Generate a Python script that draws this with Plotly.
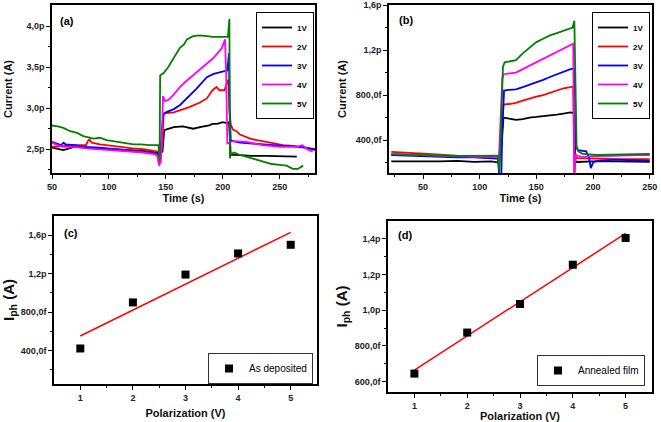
import plotly.graph_objects as go

# ---------------- DATA ----------------
# Panel (a): as-deposited film, current (pA) vs time (s)
t_a_1V = [50, 54, 60, 63, 69, 80, 92, 107, 121, 130, 142, 144.5, 147, 148.5, 150, 157, 165, 170, 174, 180, 183, 188, 191, 195, 200, 203.5, 205.5, 207, 212, 225, 238, 253, 265]
i_a_1V = [2.52, 2.51, 2.49, 2.50, 2.53, 2.52, 2.51, 2.50, 2.49, 2.48, 2.46, 2.45, 2.47, 2.73, 2.74, 2.77, 2.78, 2.76, 2.75, 2.77, 2.78, 2.79, 2.81, 2.81, 2.83, 2.82, 2.83, 2.43, 2.43, 2.42, 2.42, 2.41, 2.41]

t_a_2V = [50, 60, 70, 80, 81.5, 83, 85, 92, 107, 121, 130, 142, 144, 145, 147, 148, 150, 157, 165, 170, 180, 186, 191, 194.5, 197, 201.5, 203.5, 205, 206, 207, 209, 212, 215, 218, 224, 230, 238, 253, 262, 268, 275, 281]
i_a_2V = [2.53, 2.54, 2.55, 2.55, 2.60, 2.62, 2.58, 2.56, 2.53, 2.51, 2.50, 2.48, 2.47, 2.33, 2.60, 2.93, 2.94, 2.95, 2.99, 3.01, 3.07, 3.12, 3.22, 3.26, 3.22, 3.22, 3.30, 3.35, 2.95, 2.80, 2.74, 2.72, 2.68, 2.66, 2.63, 2.61, 2.59, 2.55, 2.54, 2.53, 2.51, 2.49]

t_a_3V = [50, 54, 58, 60, 62, 70, 78, 92, 107, 121, 130, 142, 144, 145, 146.5, 148, 150, 157, 162.5, 170, 177, 186, 192, 200.5, 204, 205.5, 206, 207, 209, 215, 224, 238, 253, 268, 281]
i_a_3V = [2.59, 2.57, 2.55, 2.58, 2.56, 2.55, 2.53, 2.52, 2.50, 2.48, 2.47, 2.45, 2.43, 2.37, 2.75, 2.93, 2.95, 2.99, 3.04, 3.14, 3.24, 3.38, 3.42, 3.45, 3.46, 3.67, 3.00, 2.61, 2.60, 2.58, 2.57, 2.55, 2.54, 2.53, 2.50]

t_a_4V = [50, 55, 60, 70, 80, 92, 107, 121, 130, 140, 142.5, 144, 145.5, 146.5, 147.5, 149, 152, 156.5, 162.5, 167, 177, 185, 191.5, 199, 202, 203, 204, 209, 221, 235, 250, 265, 270, 275, 279]
i_a_4V = [2.58, 2.55, 2.53, 2.53, 2.51, 2.50, 2.48, 2.47, 2.46, 2.44, 2.42, 2.30, 2.35, 2.60, 3.15, 3.09, 3.10, 3.16, 3.26, 3.32, 3.44, 3.53, 3.61, 3.73, 3.84, 3.40, 2.57, 2.60, 2.59, 2.55, 2.53, 2.53, 2.55, 2.49, 2.47]

t_a_5V = [50, 55, 60, 66, 72, 77.5, 86.5, 92, 98, 107, 114, 121.5, 128, 136, 143.5, 144.5, 145, 146.5, 148, 152, 156.5, 162.5, 166, 168.5, 174, 180, 186, 191.5, 198, 204.5, 205.8, 206.3, 207, 210, 215, 221, 228, 235.5, 243, 250, 256, 261.5, 266, 270.5]
i_a_5V = [2.79, 2.78, 2.76, 2.72, 2.70, 2.66, 2.63, 2.64, 2.61, 2.59, 2.58, 2.56, 2.56, 2.55, 2.55, 2.37, 3.40, 3.42, 3.43, 3.50, 3.60, 3.74, 3.78, 3.84, 3.88, 3.89, 3.88, 3.87, 3.87, 3.87, 4.09, 2.39, 2.44, 2.46, 2.43, 2.41, 2.38, 2.35, 2.32, 2.31, 2.30, 2.26, 2.26, 2.30]

# Panel (b): annealed film, current (pA) vs time (s)
t_b_1V = [22, 35, 50, 65, 80, 95, 110, 117, 119.5, 121, 126, 132, 138, 144, 150, 156, 162, 168, 174, 180, 183, 184.5, 186, 200, 220, 240, 250]
i_b_1V = [0.21, 0.21, 0.205, 0.21, 0.215, 0.205, 0.21, 0.20, 0.40, 0.60, 0.59, 0.58, 0.585, 0.60, 0.605, 0.61, 0.615, 0.625, 0.635, 0.645, 0.64, 0.21, 0.205, 0.21, 0.21, 0.21, 0.205]

t_b_2V = [22, 35, 50, 65, 80, 95, 110, 117, 119.5, 121, 126, 132, 138, 144, 150, 156, 162, 168, 174, 180, 182.5, 183.5, 184.5, 186, 200, 220, 240, 250]
i_b_2V = [0.295, 0.29, 0.28, 0.27, 0.26, 0.25, 0.24, 0.235, 0.50, 0.715, 0.72, 0.73, 0.75, 0.77, 0.785, 0.80, 0.82, 0.84, 0.86, 0.87, 0.875, 0.08, 0.25, 0.24, 0.235, 0.23, 0.23, 0.23]

t_b_3V = [22, 35, 50, 65, 80, 95, 110, 116, 117.5, 119, 120, 121.5, 126, 132, 138, 144, 150, 156, 162, 168, 174, 180, 183.5, 185, 186.5, 190, 194, 196.5, 198, 200, 203, 210, 220, 235, 250]
i_b_3V = [0.265, 0.26, 0.255, 0.25, 0.245, 0.245, 0.24, 0.235, 0.05, 0.05, 0.50, 0.84, 0.845, 0.85, 0.87, 0.89, 0.91, 0.935, 0.96, 0.985, 1.01, 1.03, 1.035, 0.35, 0.31, 0.305, 0.30, 0.24, 0.15, 0.20, 0.215, 0.22, 0.225, 0.22, 0.215]

t_b_4V = [22, 35, 50, 65, 80, 95, 110, 117, 118.5, 120, 121.5, 126, 132, 138, 144, 150, 156, 162, 168, 174, 180, 182.5, 183.5, 184.5, 186, 190, 200, 215, 230, 240, 250]
i_b_4V = [0.275, 0.27, 0.265, 0.26, 0.255, 0.25, 0.25, 0.245, 0.60, 0.95, 0.985, 0.99, 1.00, 1.03, 1.06, 1.09, 1.12, 1.15, 1.18, 1.21, 1.24, 1.255, 0.10, 0.27, 0.26, 0.25, 0.255, 0.26, 0.26, 0.265, 0.265]

t_b_5V = [22, 35, 50, 65, 80, 95, 110, 116, 117.5, 119, 120.5, 122, 126.5, 132, 138, 144, 150, 156, 162, 168, 174, 179, 182, 183.5, 184.5, 185.5, 187, 191, 203, 220, 235, 250]
i_b_5V = [0.275, 0.27, 0.265, 0.26, 0.258, 0.26, 0.262, 0.262, 0.12, 0.60, 1.05, 1.09, 1.10, 1.11, 1.17, 1.22, 1.27, 1.30, 1.33, 1.35, 1.37, 1.39, 1.40, 1.46, 0.80, 0.34, 0.30, 0.276, 0.267, 0.27, 0.276, 0.276]

# Panels (c) and (d): photocurrent (pA) vs polarization (V)
polarization = [1, 2, 3, 4, 5]
iph_deposited = [0.42, 0.90, 1.19, 1.41, 1.50]
iph_annealed = [0.645, 0.875, 1.035, 1.255, 1.405]
fit_x = [1, 5]
fit_deposited = [0.55, 1.63]
fit_annealed = [0.665, 1.43]

series_names = ["1V", "2V", "3V", "4V", "5V"]
series_colors = ["#000000", "#ff0000", "#0000ff", "#ff00ff", "#008000"]

# tick labels
a_yticks = [2.5, 3.0, 3.5, 4.0]
a_yticktext = ["2,5p", "3,0p", "3,5p", "4,0p"]
a_yminor = [2.25, 2.75, 3.25, 3.75]
b_yticks = [0.4, 0.8, 1.2, 1.6]
b_yticktext = ["400,0f", "800,0f", "1,2p", "1,6p"]
b_yminor = [0.2, 0.6, 1.0, 1.4]
c_yticks = [0.4, 0.8, 1.2, 1.6]
c_yticktext = ["400,0f", "800,0f", "1,2p", "1,6p"]
c_yminor = [0.2, 0.6, 1.0, 1.4]
d_yticks = [0.6, 0.8, 1.0, 1.2, 1.4]
d_yticktext = ["600,0f", "800,0f", "1,0p", "1,2p", "1,4p"]
d_yminor = [0.7, 0.9, 1.1, 1.3]
time_ticks = [50, 100, 150, 200, 250]
a_xminor = [75, 125, 175, 225, 275]
b_xminor = [25, 75, 125, 175, 225]
pol_ticks = [1, 2, 3, 4, 5]
pol_minor = [1.5, 2.5, 3.5, 4.5]

# ---------------- FIGURE ----------------
W, H = 661, 422
FONT = "Liberation Sans"
fig = go.Figure()

a_data = [(t_a_1V, i_a_1V), (t_a_2V, i_a_2V), (t_a_3V, i_a_3V), (t_a_4V, i_a_4V), (t_a_5V, i_a_5V)]
b_data = [(t_b_1V, i_b_1V), (t_b_2V, i_b_2V), (t_b_3V, i_b_3V), (t_b_4V, i_b_4V), (t_b_5V, i_b_5V)]

for (t, i), name, col in zip(a_data, series_names, series_colors):
    fig.add_trace(go.Scatter(x=t, y=i, mode="lines", name=name, line=dict(color=col, width=1.8),
                             xaxis="x", yaxis="y", legend="legend"))
for (t, i), name, col in zip(b_data, series_names, series_colors):
    fig.add_trace(go.Scatter(x=t, y=i, mode="lines", name=name, line=dict(color=col, width=1.8),
                             xaxis="x2", yaxis="y2", legend="legend2"))

fig.add_trace(go.Scatter(x=fit_x, y=fit_deposited, mode="lines", line=dict(color="#ff0000", width=1.5),
                         showlegend=False, xaxis="x3", yaxis="y3"))
fig.add_trace(go.Scatter(x=polarization, y=iph_deposited, mode="markers", name="As deposited",
                         marker=dict(symbol="square", size=8, color="black"),
                         xaxis="x3", yaxis="y3", legend="legend3"))
fig.add_trace(go.Scatter(x=fit_x, y=fit_annealed, mode="lines", line=dict(color="#ff0000", width=1.5),
                         showlegend=False, xaxis="x4", yaxis="y4"))
fig.add_trace(go.Scatter(x=polarization, y=iph_annealed, mode="markers", name="Annealed film",
                         marker=dict(symbol="square", size=8, color="black"),
                         xaxis="x4", yaxis="y4", legend="legend4"))

def px(x):
    return x / W

def py(y):
    return 1 - y / H

tickfont = dict(family=FONT, size=9, color="#222222", weight="bold")
titlefont = dict(family=FONT, size=11, color="#111111", weight="bold")

def axis(domain, rng, tickvals, ticktext=None, minor=None, anchor=None, title=None, standoff=None, tfont=None):
    d = dict(domain=domain, range=rng, anchor=anchor, showgrid=False, zeroline=False,
             showline=True, linecolor="black", linewidth=1.6, mirror=True, automargin=False,
             ticks="outside", ticklen=4, tickwidth=1.2, tickcolor="black",
             tickmode="array", tickvals=tickvals, tickfont=tickfont)
    if ticktext is not None:
        d["ticktext"] = ticktext
    if minor is not None:
        d["minor"] = dict(tickmode="array", tickvals=minor, ticks="outside", ticklen=2.5,
                          tickwidth=1, tickcolor="black")
    if title is not None:
        d["title"] = dict(text=title, font=tfont or titlefont, standoff=standoff)
    return d

layout = dict(width=W, height=H, margin=dict(l=0, r=0, t=0, b=0, pad=0, autoexpand=False),
              paper_bgcolor="white", plot_bgcolor="white", showlegend=True)

layout["xaxis"] = axis([px(52), px(315)], [50, 281], time_ticks, [str(v) for v in time_ticks],
                       a_xminor, "y", "Time (s)", 1)
layout["yaxis"] = axis([py(173), py(5)], [2.21, 4.26], a_yticks, a_yticktext,
                       a_yminor, "x", "Current (A)", 12)
layout["xaxis2"] = axis([px(389), px(652)], [20, 252], time_ticks, [str(v) for v in time_ticks],
                        b_xminor, "y2", "Time (s)", 1)
layout["yaxis2"] = axis([py(173), py(5)], [0.107, 1.6], b_yticks, b_yticktext,
                        b_yminor, "x2", "Current (A)", 7)
layout["xaxis3"] = axis([px(54), px(317)], [0.5, 5.5], pol_ticks, [str(v) for v in pol_ticks],
                        pol_minor, "y3", "Polarization (V)", 8)
layout["yaxis3"] = axis([py(384), py(216)], [0.05, 1.8], c_yticks, c_yticktext,
                        c_yminor, "x3", "I<sub>ph</sub> (A)", 4,
                        dict(family=FONT, size=15, color="#111111", weight="bold"))
layout["xaxis4"] = axis([px(388), px(652)], [0.5, 5.5], pol_ticks, [str(v) for v in pol_ticks],
                        pol_minor, "y4", "Polarization (V)", 5)
layout["yaxis4"] = axis([py(392), py(221)], [0.542, 1.5], d_yticks, d_yticktext,
                        d_yminor, "x4", "I<sub>ph</sub> (A)", 4,
                        dict(family=FONT, size=15, color="#111111", weight="bold"))

leg_small = dict(font=dict(family=FONT, size=8, color="black", weight="bold"), bordercolor="black",
                 borderwidth=1, bgcolor="white", xanchor="right", yanchor="top", itemwidth=30,
                 tracegroupgap=0)
layout["legend"] = dict(leg_small, x=px(314), y=py(12))
layout["legend2"] = dict(leg_small, x=px(650), y=py(12))
leg_big = dict(font=dict(family=FONT, size=10, color="black"), bordercolor="#333333", borderwidth=1,
               bgcolor="white", xanchor="right", yanchor="top")
layout["legend3"] = dict(leg_big, x=px(313), y=py(353))
layout["legend4"] = dict(leg_big, x=px(645), y=py(355))

panel_labels = [("(a)", 58, 21), ("(b)", 397, 20), ("(c)", 62, 233), ("(d)", 396, 235)]
layout["annotations"] = [dict(text=lab, x=px(xp), y=py(yp), xref="paper", yref="paper",
                              xanchor="left", yanchor="middle", showarrow=False,
                              font=dict(family=FONT, size=11, color="black", weight="bold"))
                         for lab, xp, yp in panel_labels]

fig.update_layout(layout)
fig.write_html("out.html", config={"displayModeBar": False},
               post_script="document.body.style.margin='0';")
